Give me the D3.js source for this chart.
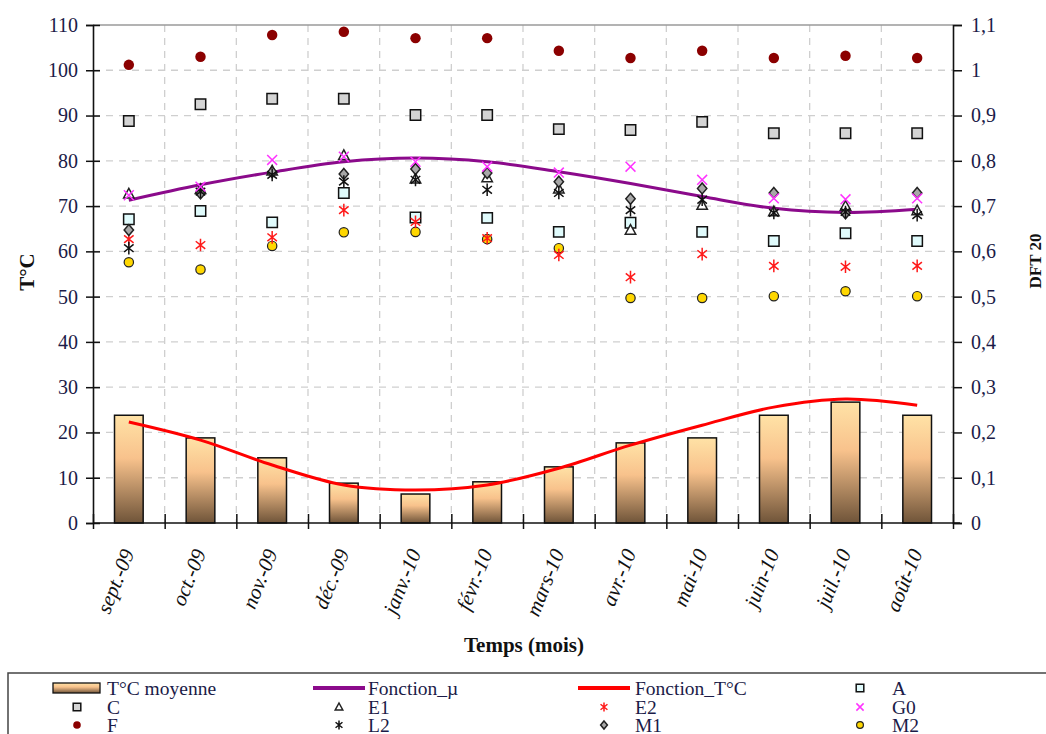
<!DOCTYPE html>
<html><head><meta charset="utf-8">
<script src="https://cdn.jsdelivr.net/npm/d3@7"></script>
<style>body{margin:0;background:#fff}svg{display:block}</style>
</head><body>
<svg id="c" width="1046" height="734"></svg>
<script>
const months = ["sept.-09","oct.-09","nov.-09","déc.-09","janv.-10","févr.-10","mars-10","avr.-10","mai-10","juin-10","juil.-10","août-10"];
const tempMoy   = [23.8,18.8,14.4,8.8,6.4,9.1,12.4,17.7,18.8,23.8,26.7,23.8];
const fonctionT = [22.3,18.3,12.8,8.4,7.3,8.4,12.1,17.2,21.6,25.6,27.4,26.0];
const fonctionMu= [0.713,0.747,0.775,0.798,0.806,0.798,0.776,0.750,0.721,0.695,0.686,0.693];
const A  = [0.671,0.689,0.664,0.729,0.675,0.674,0.643,0.663,0.643,0.623,0.640,0.623];
const C  = [0.888,0.925,0.937,0.937,0.901,0.901,0.870,0.868,0.886,0.861,0.861,0.861];
const E1 = [0.727,0.737,0.778,0.812,0.760,0.763,0.738,0.647,0.702,0.688,0.700,0.690];
const E2 = [0.627,0.614,0.631,0.691,0.665,0.629,0.592,0.543,0.594,0.568,0.566,0.568];
const F  = [1.012,1.030,1.078,1.085,1.071,1.071,1.043,1.027,1.043,1.027,1.032,1.027];
const G0 = [0.724,0.743,0.802,0.809,0.798,0.787,0.774,0.787,0.758,0.717,0.715,0.717];
const L2 = [0.607,0.732,0.769,0.754,0.758,0.736,0.729,0.691,0.714,0.685,0.687,0.680];
const M1 = [0.647,0.728,0.775,0.771,0.782,0.773,0.754,0.716,0.739,0.729,0.684,0.729];
const M2 = [0.576,0.560,0.612,0.642,0.643,0.627,0.607,0.497,0.497,0.501,0.512,0.501];
const leftTicks  = [0,10,20,30,40,50,60,70,80,90,100,110];
const rightTicks = [0,0.1,0.2,0.3,0.4,0.5,0.6,0.7,0.8,0.9,1,1.1];
const rightTickLabels = ["0","0,1","0,2","0,3","0,4","0,5","0,6","0,7","0,8","0,9","1","1,1"];

const svg = d3.select("#c");
const L = 93, R = 953, T = 25, B = 523;
const serif = "'Liberation Serif','Times New Roman',serif";
const txtCol = "#1b1b48";

const x = d3.scaleBand().domain(months).range([L, R]).padding(0);
const xIdx = d3.scaleLinear().domain([0, months.length]).range([L, R]);
const yL = d3.scaleLinear().domain([0, 110]).range([B, T]);
const yR = d3.scaleLinear().domain([0, 1.1]).range([B, T]);
const cx = m => x(m) + x.bandwidth() / 2;

// gradient
const defs = svg.append("defs");
const g = defs.append("linearGradient").attr("id","barGrad").attr("x1",0).attr("y1",0).attr("x2",0).attr("y2",1);
g.append("stop").attr("offset","0%").attr("stop-color","#ffe2a6");
g.append("stop").attr("offset","40%").attr("stop-color","#f8c28c");
g.append("stop").attr("offset","100%").attr("stop-color","#6f5439");

// grid
const grid = svg.append("g");
grid.selectAll("line.h").data(leftTicks.filter(d => d > 0 && d < 110)).join("line")
  .attr("x1", L).attr("x2", R).attr("y1", d => yL(d)).attr("y2", d => yL(d))
  .attr("stroke","#cfcfcf").attr("stroke-width",1.3).attr("stroke-dasharray","7,6");
grid.selectAll("line.v").data(d3.range(1, months.length)).join("line")
  .attr("x1", d => xIdx(d)).attr("x2", d => xIdx(d)).attr("y1", T).attr("y2", B)
  .attr("stroke","#cfcfcf").attr("stroke-width",1.3).attr("stroke-dasharray","7,6");
svg.append("line").attr("x1",L).attr("x2",R).attr("y1",T).attr("y2",T).attr("stroke","#9a9a9a").attr("stroke-width",1.5);

// bars
const bw = x.bandwidth() * 0.4;
svg.append("g").selectAll("rect").data(months).join("rect")
  .attr("x", (m) => cx(m) - bw / 2).attr("width", bw)
  .attr("y", (m, i) => yL(tempMoy[i])).attr("height", (m, i) => B - yL(tempMoy[i]))
  .attr("fill","url(#barGrad)").attr("stroke","#111").attr("stroke-width",1.5);

// lines
const lineL = d3.line().x((d, i) => cx(months[i])).y(d => yL(d)).curve(d3.curveCatmullRom);
const lineR = d3.line().x((d, i) => cx(months[i])).y(d => yR(d)).curve(d3.curveCatmullRom);
svg.append("path").attr("d", lineL(fonctionT)).attr("fill","none").attr("stroke","#ff0000").attr("stroke-width",3);
svg.append("path").attr("d", lineR(fonctionMu)).attr("fill","none").attr("stroke","#8b0a8b").attr("stroke-width",3);

// marker shapes
function asterisk(s){ const a=s*0.75, b=s*0.6; return `M0,${-s}L0,${s}M${-a},${-b}L${a},${b}M${-a},${b}L${a},${-b}`; }
function cross(s){ return `M${-s},${-s}L${s},${s}M${-s},${s}L${s},${-s}`; }
function tri(s){ return `M0,${-s}L${s*0.95},${s*0.75}L${-s*0.95},${s*0.75}Z`; }
function diamond(s){ return `M0,${-s}L${s*0.85},0L0,${s}L${-s*0.85},0Z`; }
function square(s){ return `M${-s},${-s}H${s}V${s}H${-s}Z`; }

const series = [
  {name:"A",  data:A,  kind:"square", fill:"#e0fbfc", stroke:"#111"},
  {name:"C",  data:C,  kind:"square", fill:"#d4d4d4", stroke:"#111"},
  {name:"E1", data:E1, kind:"tri",    fill:"#fff",    stroke:"#222"},
  {name:"E2", data:E2, kind:"ast",    fill:"none",    stroke:"#ff1a1a"},
  {name:"G0", data:G0, kind:"cross",  fill:"none",    stroke:"#ff33ff"},
  {name:"F",  data:F,  kind:"circle", fill:"#8b0000", stroke:"none"},
  {name:"L2", data:L2, kind:"ast",    fill:"none",    stroke:"#111"},
  {name:"M1", data:M1, kind:"diamond",fill:"#a8a8a8", stroke:"#222"},
  {name:"M2", data:M2, kind:"circle2",fill:"#ffd700", stroke:"#222"}
];
function drawMarker(sel, s, k){
  if (k.kind === "circle") sel.append("circle").attr("r", s*0.95).attr("fill", k.fill);
  else if (k.kind === "circle2") sel.append("circle").attr("r", s*0.85).attr("fill", k.fill).attr("stroke", k.stroke).attr("stroke-width",1.2);
  else {
    const d = k.kind==="square"?square(s*0.95):k.kind==="tri"?tri(s):k.kind==="ast"?asterisk(s*1.15):k.kind==="cross"?cross(s*0.9):diamond(s);
    sel.append("path").attr("d", d).attr("fill", k.fill).attr("stroke", k.stroke)
      .attr("stroke-width", (k.kind==="ast"||k.kind==="cross")?1.5:1.5);
  }
}
const order = ["C","F","A","E1","M2","E2","M1","L2","G0"];
order.forEach(nm => {
  const k = series.find(s => s.name === nm);
  const gg = svg.append("g");
  k.data.forEach((v, i) => {
    const mg = gg.append("g").attr("transform", `translate(${cx(months[i])},${yR(v)})`);
    drawMarker(mg, 5.5, k);
  });
});

// axes
const axL = svg.append("g").attr("transform", `translate(${L},0)`)
  .call(d3.axisLeft(yL).tickValues(leftTicks).tickSize(7).tickPadding(8));
axL.selectAll(".tick line").attr("x2", 7).attr("x1", -7);
const axR = svg.append("g").attr("transform", `translate(${R},0)`)
  .call(d3.axisRight(yR).tickValues(rightTicks).tickFormat((d, i) => rightTickLabels[i]).tickSize(9).tickPadding(9));
const axB = svg.append("g").attr("transform", `translate(0,${B})`)
  .call(d3.axisBottom(xIdx).tickValues(d3.range(0, months.length + 1)).tickFormat("").tickSize(6));
axB.selectAll(".tick line").attr("y1", -9).attr("y2", 6);
[axL, axR, axB].forEach(a => {
  a.select(".domain").attr("stroke","#111").attr("stroke-width",1.6);
  a.selectAll(".tick line").attr("stroke","#111").attr("stroke-width",1.5);
  a.selectAll(".tick text").attr("font-family", serif).attr("font-size", 20).attr("fill", txtCol);
});
axB.select(".domain").attr("d", `M${L},0H${R + 7}`);

// x labels
svg.append("g").selectAll("text").data(months).join("text")
  .attr("transform", m => `translate(${cx(m) - 1},${550}) rotate(-68)`)
  .attr("text-anchor","end").attr("dy","0.35em")
  .attr("font-family", serif).attr("font-style","italic").attr("font-size", 21).attr("fill", "#111")
  .text(m => m);

// titles
svg.append("text").attr("x", 524).attr("y", 652).attr("text-anchor","middle")
  .attr("font-family", serif).attr("font-weight","bold").attr("font-size", 21).attr("fill","#111").text("Temps (mois)");
svg.append("text").attr("transform","translate(34,272) rotate(-90)").attr("text-anchor","middle")
  .attr("font-family", serif).attr("font-weight","bold").attr("font-size", 21).attr("fill","#111").text("T°C");
svg.append("text").attr("transform","translate(1041,261) rotate(-90)").attr("text-anchor","middle")
  .attr("font-family", serif).attr("font-weight","bold").attr("font-size", 17).attr("fill","#111").text("DFT 20");

// legend
svg.append("rect").attr("x", 8).attr("y", 673).attr("width", 1100).attr("height", 100)
  .attr("fill","none").attr("stroke","#444").attr("stroke-width",1.5);
const colSym = [77, 339, 604, 860], colTxt = [107, 368, 635, 892];
const rowY = [688, 707, 725];
const legItems = [
  {label:"T°C moyenne", type:"bar"}, {label:"Fonction_µ", type:"line", color:"#8b0a8b"},
  {label:"Fonction_T°C", type:"line", color:"#ff0000"}, {label:"A", ser:"A"},
  {label:"C", ser:"C"}, {label:"E1", ser:"E1"}, {label:"E2", ser:"E2"}, {label:"G0", ser:"G0"},
  {label:"F", ser:"F"}, {label:"L2", ser:"L2"}, {label:"M1", ser:"M1"}, {label:"M2", ser:"M2"}
];
const lg = svg.append("g");
legItems.forEach((it, i) => {
  const r = Math.floor(i / 4), c = i % 4, y = rowY[r];
  if (it.type === "bar") lg.append("rect").attr("x", 53).attr("y", y - 5).attr("width", 47).attr("height", 10)
      .attr("fill","url(#barGrad)").attr("stroke","#111").attr("stroke-width",1.3);
  else if (it.type === "line") lg.append("line").attr("x1", colSym[c] - 26).attr("x2", colSym[c] + 26)
      .attr("y1", y).attr("y2", y).attr("stroke", it.color).attr("stroke-width", 4);
  else {
    const k = series.find(s => s.name === it.ser);
    drawMarker(lg.append("g").attr("transform", `translate(${colSym[c]},${y})`), 4, k);
  }
  lg.append("text").attr("x", colTxt[c]).attr("y", y + 6.5).attr("font-family", serif).attr("font-size", 19.5)
    .attr("fill", txtCol).text(it.label);
});
</script>
</body></html>
